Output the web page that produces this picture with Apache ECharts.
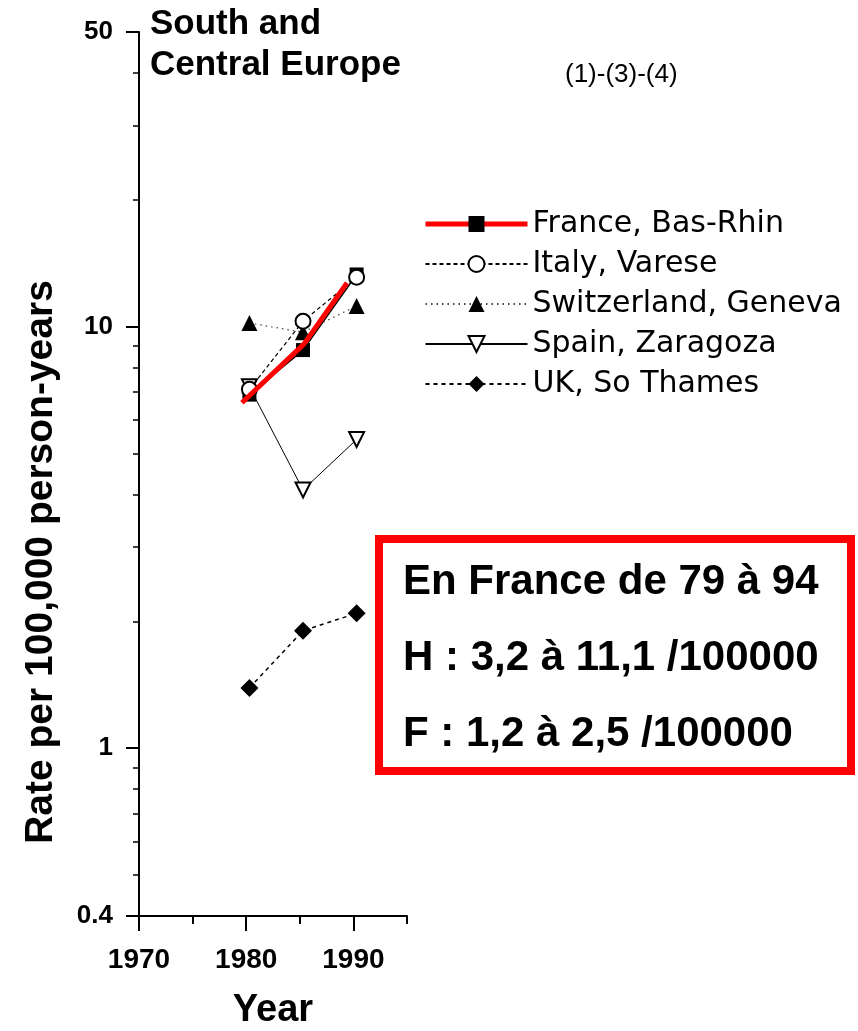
<!DOCTYPE html>
<html><head><meta charset="utf-8">
<script src="https://cdn.jsdelivr.net/npm/echarts@6/dist/echarts.min.js"></script>
<style>html,body{margin:0;padding:0;background:#fff}#c{width:858px;height:1031px}</style>
</head><body><div id="c"></div>
<script>
// ---- data ----
const years = [1980.3, 1985.3, 1990.3];
const franceBasRhin = [6.9, 8.8, 13.3];
const italyVarese = [7.1, 10.3, 13.1];
const switzerlandGeneva = [10.2, 9.7, 11.2];
const spainZaragoza = [7.2, 4.1, 5.4];
const ukSoThames = [1.39, 1.90, 2.09];
const highlightYears = [1979.6, 1985.4, 1989.4];
const highlightValues = [6.6, 9.1, 12.7];
const xMajorTicks = [1970, 1980, 1990];
const yMinorTicks = [0.5, 0.6, 0.7, 0.8, 0.9, 2, 3, 4, 5, 6, 7, 8, 9, 20, 30, 40];
const seriesNames = ['France, Bas-Rhin', 'Italy, Varese', 'Switzerland, Geneva', 'Spain, Zaragoza', 'UK, So Thames'];
const noteLines = ['En France de 79 à 94', 'H : 3,2 à 11,1 /100000', 'F : 1,2 à 2,5 /100000'];
const titleText = 'South and\nCentral Europe';
const refText = '(1)-(3)-(4)';

const pairs = (xs, ys) => xs.map((x, i) => [x, ys[i]]);
const FONT = 'Liberation Sans';
const black = '#000';

const chart = echarts.init(document.getElementById('c'), null, {renderer: 'canvas'});
const option = {
  animation: false,
  backgroundColor: '#fff',
  title: [
    {text: titleText, left: 150, top: 4, padding: 0,
     textStyle: {fontFamily: FONT, fontWeight: 'bold', fontSize: 35, lineHeight: 41, color: black}},
    {text: refText, left: 565, top: 62, padding: 0,
     textStyle: {fontFamily: FONT, fontWeight: 'normal', fontSize: 26, color: black}}
  ],
  legend: {
    orient: 'vertical', left: 423, top: 209, padding: 0,
    itemWidth: 102, itemHeight: 20, itemGap: 10,
    selectedMode: false,
    textStyle: {fontFamily: 'DejaVu Sans', fontSize: 30, lineHeight: 28, color: black},
    data: seriesNames.map((n, i) => i === 0 ? {name: n, lineStyle: {color: '#ff0000', width: 5}} : {name: n})
  },
  grid: {left: 139, right: 451, top: 32, bottom: 115, containLabel: false, outerBoundsMode: 'none'},
  xAxis: [
    {type: 'value', min: 1970, max: 1995, name: 'Year', nameLocation: 'middle', nameGap: 76,
     nameTextStyle: {fontFamily: FONT, fontWeight: 'bold', fontSize: 38, color: black},
     axisLine: {show: true, onZero: false, lineStyle: {color: black, width: 2}},
     axisTick: {show: true, customValues: xMajorTicks, length: 15, lineStyle: {color: black, width: 2}},
     axisLabel: {customValues: xMajorTicks, margin: 30, fontFamily: FONT, fontWeight: 'bold', fontSize: 28, color: black,
                 formatter: v => String(v)},
     splitLine: {show: false}},
    {type: 'value', min: 1970, max: 1995, interval: 5, position: 'bottom',
     axisLine: {show: false, onZero: false},
     axisTick: {show: true, length: 8, lineStyle: {color: black, width: 2}},
     axisLabel: {show: false}, splitLine: {show: false}}
  ],
  yAxis: [
    {type: 'log', logBase: 10, min: 0.4, max: 50,
     name: 'Rate per 100,000 person-years', nameLocation: 'middle', nameGap: 78,
     nameTextStyle: {fontFamily: FONT, fontWeight: 'bold', fontSize: 39, color: black, padding: [0, 176, 0, 0]},
     axisLine: {show: true, onZero: false, lineStyle: {color: black, width: 2}},
     axisTick: {show: true, length: 13, lineStyle: {color: black, width: 2}},
     axisLabel: {margin: 26, fontFamily: FONT, fontWeight: 'bold', fontSize: 26, color: black,
                 formatter: v => String(+Number(v).toPrecision(3))},
     splitLine: {show: false}, minorTick: {show: false}},
    {type: 'value', min: Math.log10(0.4), max: Math.log10(50), position: 'left',
     axisLine: {show: false, onZero: false},
     axisTick: {show: true, customValues: yMinorTicks.map(Math.log10), length: 6, lineStyle: {color: black, width: 1.5}},
     axisLabel: {show: false}, splitLine: {show: false}}
  ],
  series: [
    {name: seriesNames[0], type: 'line', data: pairs(years, franceBasRhin),
     symbol: 'rect', symbolSize: 14, itemStyle: {color: black},
     lineStyle: {color: black, width: 1.5, type: 'solid'}, z: 2},
    {name: seriesNames[1], type: 'line', data: pairs(years, italyVarese),
     symbol: 'emptyCircle', symbolSize: 15, itemStyle: {color: black, borderWidth: 1.5},
     lineStyle: {color: black, width: 1.2, type: [4, 3]}, z: 3},
    {name: seriesNames[2], type: 'line', data: pairs(years, switzerlandGeneva),
     symbol: 'triangle', symbolSize: 16, itemStyle: {color: black},
     lineStyle: {color: '#444', width: 1.2, type: [1.5, 4]}, z: 2},
    {name: seriesNames[3], type: 'line', data: pairs(years, spainZaragoza),
     symbol: 'emptyTriangle', symbolRotate: 180, symbolSize: 15, itemStyle: {color: black, borderWidth: 1.5},
     lineStyle: {color: black, width: 1, type: 'solid'}, z: 2},
    {name: seriesNames[4], type: 'line', data: pairs(years, ukSoThames),
     symbol: 'diamond', symbolSize: 18, itemStyle: {color: black},
     lineStyle: {color: black, width: 1.5, type: [4, 4]}, z: 2},
    {name: 'highlight', type: 'line', data: pairs(highlightYears, highlightValues),
     symbol: 'none', silent: true, lineStyle: {color: '#ff0000', width: 5, type: 'solid'}, z: 5}
  ],
  graphic: [
    {type: 'rect', z: 10, shape: {x: 379, y: 539, width: 472, height: 232},
     style: {fill: 'transparent', stroke: '#ff0000', lineWidth: 8}},
    ...noteLines.map((t, i) => ({type: 'text', z: 10, x: 403, y: 582 + i * 76,
      style: {text: t, fontFamily: FONT, fontWeight: 'bold', fontSize: 42, fill: black, verticalAlign: 'middle'}}))
  ]
};
chart.setOption(option);
</script></body></html>
